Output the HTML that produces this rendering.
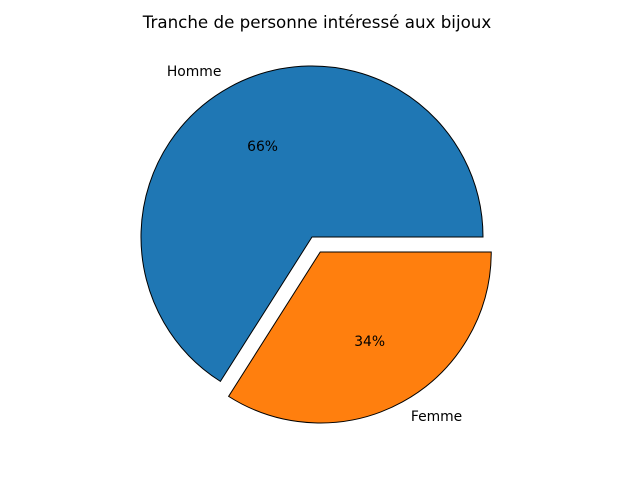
<!DOCTYPE html>
<html><head><meta charset="utf-8"><style>
html,body{margin:0;padding:0;background:#fff;}
svg{display:block;font-family:"DejaVu Sans","Liberation Sans",sans-serif;}
</style></head><body>
<svg id="chart" width="640" height="480">
<rect width="640" height="480" fill="#fff"/>
<text x="317" y="28" text-anchor="middle" font-size="16.7">Tranche de personne intéressé aux bijoux</text>
<g id="slices"></g>
</svg>
<script>
const categories = ["Homme", "Femme"];
const values = [66, 34];
const explode = [0, 0.1];
const colors = ["#1f77b4", "#ff7f0e"];
const cx = 312, cy = 237, R = 171;
const ns = "http://www.w3.org/2000/svg";
const g = document.getElementById("slices");
const total = values.reduce((a, b) => a + b, 0);
let start = 0;
values.forEach((v, i) => {
  const sweep = v / total * 360;
  const end = start + sweep;
  const mid = (start + end) / 2 * Math.PI / 180;
  const ox = cx + explode[i] * R * Math.cos(mid);
  const oy = cy - explode[i] * R * Math.sin(mid);
  const a0 = start * Math.PI / 180, a1 = end * Math.PI / 180;
  const x0 = ox + R * Math.cos(a0), y0 = oy - R * Math.sin(a0);
  const x1 = ox + R * Math.cos(a1), y1 = oy - R * Math.sin(a1);
  const large = sweep > 180 ? 1 : 0;
  const p = document.createElementNS(ns, "path");
  p.setAttribute("d", `M${ox},${oy} L${x0},${y0} A${R},${R} 0 ${large} 0 ${x1},${y1} Z`);
  p.setAttribute("fill", colors[i]);
  p.setAttribute("stroke", "#000");
  p.setAttribute("stroke-width", "1");
  
  
  g.appendChild(p);
  const lx = ox + 1.1 * R * Math.cos(mid), ly = oy - 1.1 * R * Math.sin(mid);
  const t = document.createElementNS(ns, "text");
  t.setAttribute("x", lx);
  t.setAttribute("y", ly + 4);
  t.setAttribute("font-size", "13.9");
  t.setAttribute("text-anchor", Math.cos(mid) < 0 ? "end" : "start");
  t.textContent = categories[i];
  
  
  g.appendChild(t);
  const px = ox + 0.6 * R * Math.cos(mid), py = oy - 0.6 * R * Math.sin(mid);
  const pt = document.createElementNS(ns, "text");
  pt.setAttribute("x", px);
  pt.setAttribute("y", py + 4);
  pt.setAttribute("font-size", "13.9");
  pt.setAttribute("text-anchor", "middle");
  pt.textContent = Math.round(v / total * 100) + "%";
  
  
  g.appendChild(pt);
  start = end;
});
</script>
</body></html>
